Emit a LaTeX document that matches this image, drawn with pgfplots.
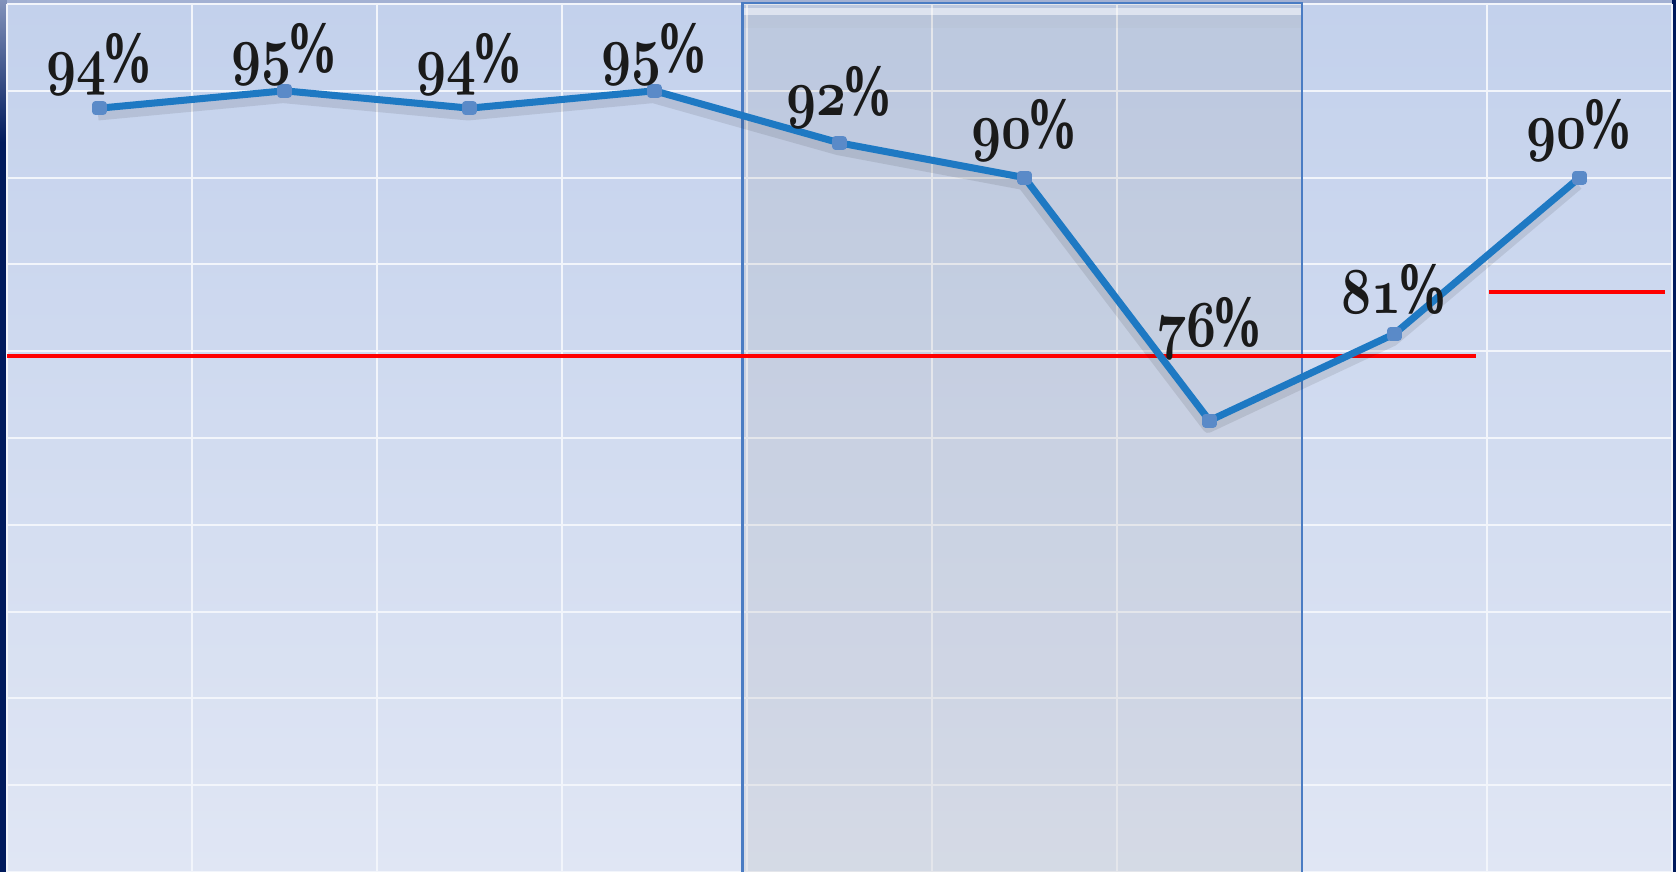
\documentclass[border=0pt]{standalone}
\usepackage{graphicx}
\usepackage{fontspec}
\newfontfamily\pctfont{Liberation Serif}
\usepackage{pgfplots}
\usepackage{pgfplotstable}
\pgfplotsset{compat=1.18}
\definecolor{bgtop}{HTML}{C3D1EC}
\definecolor{bgbot}{HTML}{E0E6F4}
\definecolor{linec}{HTML}{1E79C3}
\definecolor{markc}{HTML}{5A8AC8}
\definecolor{boxc}{HTML}{4A7CC3}
\definecolor{navy}{HTML}{001A5C}
\definecolor{topband}{HTML}{A3B1D3}
\definecolor{labelc}{HTML}{1A1A1A}
\definecolor{gridc}{HTML}{F2F5FB}
\definecolor{boxfill}{HTML}{969696}
\newcommand\osn[1]{{\usefont{OML}{cmm}{b}{it}#1}}
\newcommand\lbl[1]{{\fontsize{17.28}{20}\selectfont\scalebox{0.86}[1.08]{\osn{#1}}\kern-1.5pt\scalebox{0.7}[1]{\pctfont\bfseries\fontsize{21}{22}\selectfont\%}}}
\pgfplotstableread{
x y dy
0 94 0
1 95 -2
2 94 0
3 95 -2
4 92 0.5
5 90 1
6 76 14
7 81 2
8 90 1
}\datatable
\pgfplotstableread{
x y
-0.5 79.7
7.44 79.7
}\redA
\pgfplotstableread{
x y
7.51 83.4
8.46 83.4
}\redB
\begin{document}
\begin{tikzpicture}
\useasboundingbox (0,0) rectangle (16.76cm,8.72cm);
\fill[navy] (0,0) rectangle (0.07cm,8.72cm);
\fill[top color=topband!80!navy, bottom color=navy] (0,7.3cm) rectangle (0.07cm,8.72cm);
\fill[navy] (16.72cm,0) rectangle (16.76cm,8.72cm);
\fill[topband] (0.07cm,8.68cm) rectangle (16.72cm,8.72cm);
\begin{axis}[
  at={(0.07cm,0cm)}, anchor=south west,
  scale only axis, width=16.65cm, height=8.68cm,
  xmin=-0.5, xmax=8.5, ymin=50, ymax=100,
  xtick={-0.5,0.5,...,8.5}, ytick={50,55,...,100},
  xticklabels={}, yticklabels={},
  major tick length=0pt,
  axis line style={draw=none},
  grid=major, grid style={color=gridc, line width=0.6pt},
  axis background/.style={shade, top color=bgtop, bottom color=bgbot},
  clip=false,
]
% highlighted period
\fill[boxfill, fill opacity=0.15] (axis cs:3.475,49.95) rectangle (axis cs:6.5,100.05);
\fill[white, fill opacity=0.5] (axis cs:3.475,99.37) rectangle (axis cs:6.5,99.77);
\fill[boxfill, fill opacity=0.06] (axis cs:3.475,98.6) rectangle (axis cs:6.5,99.37);
\draw[boxc, line width=0.7pt] (axis cs:3.475,49.95) rectangle (axis cs:6.5,100.05);
% target lines
\addplot[red, line width=1.15pt, forget plot] table[x=x,y=y] {\redA};
\addplot[red, line width=1.15pt, forget plot] table[x=x,y=y] {\redB};
% shadow
\addplot[black, opacity=0.09, line width=3pt, line join=round, transform canvas={xshift=-0.4pt,yshift=-2pt}, forget plot] table[x=x,y=y] {\datatable};
% main line
\addplot[linec, line width=2pt, line join=round, mark=square*, mark size=1pt, mark options={fill=markc, draw=markc}] table[x=x,y=y] {\datatable};
% labels
\addplot[draw=none, mark=none, point meta=explicit symbolic,
  visualization depends on={\thisrow{dy}\as\dy},
  nodes near coords={\lbl{\pgfplotspointmeta}},
  every node near coord/.append style={text=labelc, yshift=\dy pt}]
  table[x=x,y=y,meta=y] {\datatable};
\end{axis}
\end{tikzpicture}
\end{document}
